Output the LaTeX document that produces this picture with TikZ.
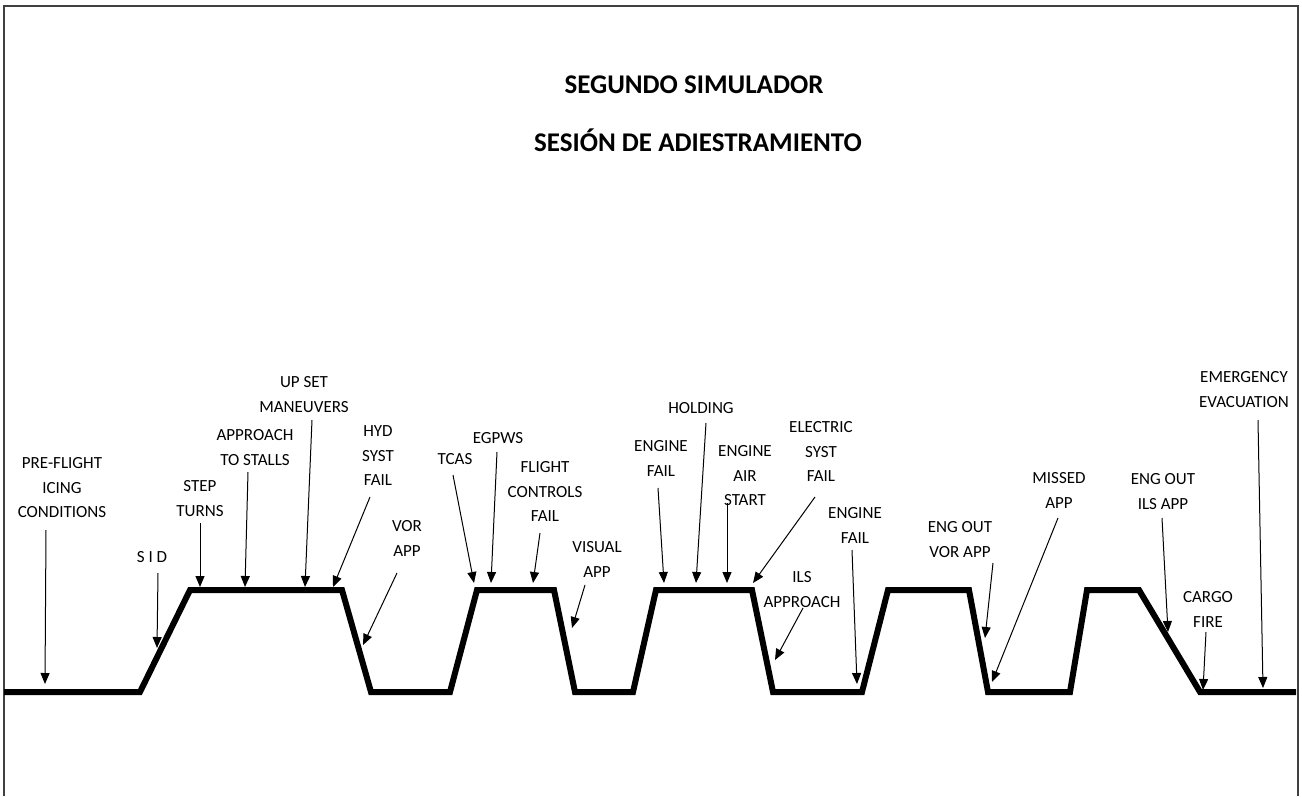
\documentclass[tikz,border=0pt]{standalone}
\usepackage{fontspec}
\setmainfont{Carlito}
\usetikzlibrary{arrows.meta}
\begin{document}
\begin{tikzpicture}[x=1pt,y=-1pt,
  lbl/.style={align=center, inner sep=0pt, anchor=base, font=\fontsize{17}{24.5}\selectfont},
  ttl/.style={inner sep=0pt, anchor=base, font=\fontsize{27}{32}\selectfont\bfseries},
  arr/.style={-{Triangle[length=11pt,width=9pt]}, line width=1pt},
  prof/.style={line width=6pt, line join=miter},
  frame/.style={line width=1.6pt, draw=black!75}]
\useasboundingbox (0,0) rectangle (1302,796);
\draw[frame] (4,796) -- (4,6) -- (1298,6) -- (1298,796);

% titles
\node[ttl] (t1) at (694,93) {SEGUNDO SIMULADOR};
\node[ttl] (t2) at (698,151) {SESIÓN DE ADIESTRAMIENTO};

% profile
\coordinate (p0) at (4,692);
\coordinate (p1) at (140,692);
\coordinate (p2) at (190,590);
\coordinate (p3) at (342,590);
\coordinate (p4) at (371,692);
\coordinate (p5) at (450,692);
\coordinate (p6) at (477,590);
\coordinate (p7) at (554,590);
\coordinate (p8) at (575,692);
\coordinate (p9) at (633,692);
\coordinate (p10) at (656,590);
\coordinate (p11) at (752,590);
\coordinate (p12) at (773,692);
\coordinate (p13) at (862,692);
\coordinate (p14) at (888,590);
\coordinate (p15) at (969,590);
\coordinate (p16) at (988,692);
\coordinate (p17) at (1070,692);
\coordinate (p18) at (1087,590);
\coordinate (p19) at (1139,590);
\coordinate (p20) at (1200,692);
\coordinate (p21) at (1296,692);
\draw[prof] (p0) -- (p1) -- (p2) -- (p3) -- (p4) -- (p5) -- (p6) -- (p7) -- (p8) -- (p9) -- (p10) -- (p11) -- (p12) -- (p13) -- (p14) -- (p15) -- (p16) -- (p17) -- (p18) -- (p19) -- (p20) -- (p21);

% labels (anchor = baseline of the last line)
\node[lbl] (l1) at (62,517.5) {PRE-FLIGHT\\ICING\\CONDITIONS};
\node[lbl] (l2) at (152,562.5) {S I D};
\node[lbl] (l3) at (200,516) {STEP\\TURNS};
\node[lbl] (l4) at (255,465) {APPROACH\\TO STALLS};
\node[lbl] (l5) at (304,412) {UP SET\\MANEUVERS};
\node[lbl] (l6) at (378,485.5) {HYD\\SYST\\FAIL};
\node[lbl] (l7) at (407,556) {VOR\\APP};
\node[lbl] (l8) at (455,464.5) {TCAS};
\node[lbl] (l9) at (498,443.5) {EGPWS};
\node[lbl] (l10) at (545,521.5) {FLIGHT\\CONTROLS\\FAIL};
\node[lbl] (l11) at (597,577) {VISUAL\\APP};
\node[lbl] (l12) at (661,476) {ENGINE\\FAIL};
\node[lbl] (l13) at (701,413.5) {HOLDING};
\node[lbl] (l14) at (745,505.5) {ENGINE\\AIR\\START};
\node[lbl] (l15) at (821,481.5) {ELECTRIC\\SYST\\FAIL};
\node[lbl] (l16) at (802,607) {ILS\\APPROACH};
\node[lbl] (l17) at (855,543) {ENGINE\\FAIL};
\node[lbl] (l18) at (960,557) {ENG OUT\\VOR APP};
\node[lbl] (l19) at (1059,508) {MISSED\\APP};
\node[lbl] (l20) at (1163,509) {ENG OUT\\ILS APP};
\node[lbl] (l21) at (1208,627) {CARGO\\FIRE};
\node[lbl] (l22) at (1244,407) {EMERGENCY\\EVACUATION};

% arrow ends
\coordinate (s1) at (46,530);   \coordinate (e1) at (45,684);
\coordinate (s2) at (158,573);  \coordinate (e2) at (157,648);
\coordinate (s3) at (200,523);  \coordinate (e3) at (200,587);
\coordinate (s4) at (248,472);  \coordinate (e4) at (245,587);
\coordinate (s5) at (312,420);  \coordinate (e5) at (305,587);
\coordinate (s6) at (370,497);  \coordinate (e6) at (333,587);
\coordinate (s7) at (397,573);  \coordinate (e7) at (363,645);
\coordinate (s8) at (453,475);  \coordinate (e8) at (474,583);
\coordinate (s9) at (497,452);  \coordinate (e9) at (491,583);
\coordinate (s10) at (540,533); \coordinate (e10) at (533,583);
\coordinate (s11) at (585,585); \coordinate (e11) at (572,628);
\coordinate (s12) at (658,488); \coordinate (e12) at (664,583);
\coordinate (s13) at (706,423); \coordinate (e13) at (696,583);
\coordinate (s14) at (727,503); \coordinate (e14) at (727,583);
\coordinate (s15) at (815,497); \coordinate (e15) at (753,583);
\coordinate (s16) at (803,608); \coordinate (e16) at (775,660);
\coordinate (s17) at (852,550); \coordinate (e17) at (857,684);
\coordinate (s18) at (993,563); \coordinate (e18) at (985,638);
\coordinate (s19) at (1058,518);\coordinate (e19) at (992,682);
\coordinate (s20) at (1162,518);\coordinate (e20) at (1168,632);
\coordinate (s21) at (1206,632);\coordinate (e21) at (1203,690);
\coordinate (s22) at (1258,420);\coordinate (e22) at (1263,688);

\foreach \i in {1,...,22} {\draw[arr] (s\i) -- (e\i);}
\end{tikzpicture}
\end{document}
